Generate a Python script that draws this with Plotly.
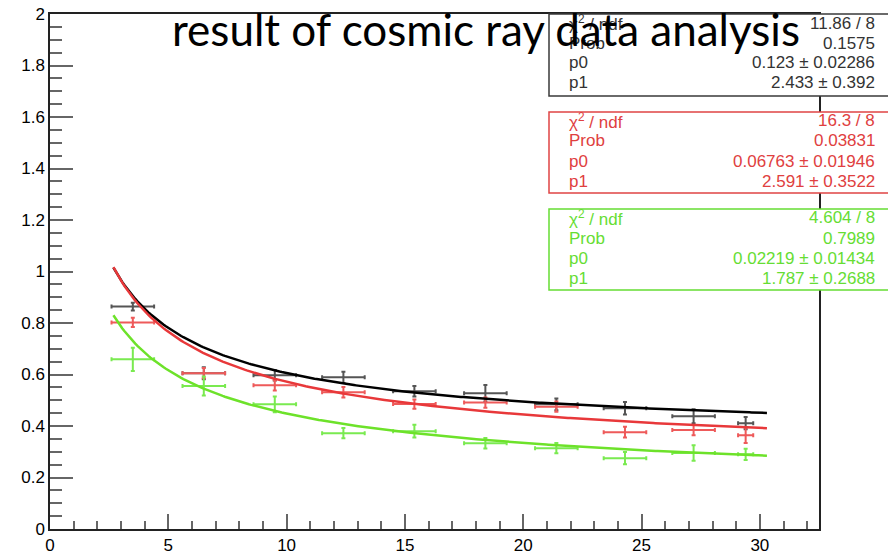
import numpy as np
import plotly.graph_objects as go

# ---- data ----
x_centers = [3.5, 6.5, 9.5, 12.4, 15.4, 18.4, 21.4, 24.3, 27.2, 29.4]
x_err = [0.9, 0.9, 0.9, 0.9, 0.9, 0.9, 0.9, 0.9, 0.9, 0.32]

black_y = [0.864, 0.605, 0.597, 0.589, 0.535, 0.527, 0.484, 0.469, 0.438, 0.411]
black_yerr = [0.015, 0.023, 0.02, 0.022, 0.02, 0.032, 0.023, 0.024, 0.027, 0.024]

red_y = [0.802, 0.605, 0.558, 0.531, 0.485, 0.491, 0.475, 0.376, 0.384, 0.364]
red_yerr = [0.018, 0.02, 0.02, 0.02, 0.018, 0.02, 0.02, 0.021, 0.02, 0.03]

green_y = [0.659, 0.555, 0.484, 0.372, 0.38, 0.333, 0.314, 0.275, 0.295, 0.29]
green_yerr = [0.045, 0.037, 0.031, 0.02, 0.025, 0.02, 0.02, 0.024, 0.03, 0.022]

# fit results shown in the stat boxes: f(x) = sqrt(p0 + p1/x)
fit_range = [2.68, 30.3]
black_fit = {"chi2": "11.86 / 8", "prob": "0.1575", "p0": 0.123, "p0e": "0.02286", "p1": 2.433, "p1e": "0.392"}
red_fit = {"chi2": "16.3 / 8", "prob": "0.03831", "p0": 0.06763, "p0e": "0.01946", "p1": 2.591, "p1e": "0.3522"}
green_fit = {"chi2": "4.604 / 8", "prob": "0.7989", "p0": 0.02219, "p0e": "0.01434", "p1": 1.787, "p1e": "0.2688"}

title_text = "result of cosmic ray data analysis"

# ---- figure ----
W, H = 888, 555
L, R, T, B = 50, 69, 14, 26
plot_w = W - L - R
plot_h = H - T - B


def px2paper_x(px):
    return (px - L) / plot_w


def py2paper_y(py):
    return (H - B - py) / plot_h


series = [
    (black_y, black_yerr, black_fit, "#000000", "#555555", "#333333"),
    (red_y, red_yerr, red_fit, "#e8383a", "#ee5a5a", "#e04040"),
    (green_y, green_yerr, green_fit, "#6de22a", "#7aea50", "#66dd33"),
]

fig = go.Figure()
xf = np.linspace(fit_range[0], fit_range[1], 300)
for ys, yerr, fit, lc, ec, tc in series:
    fig.add_trace(go.Scatter(
        x=x_centers, y=ys, mode="markers",
        marker=dict(size=2, color=ec),
        error_x=dict(type="data", array=x_err, color=ec, thickness=2, width=2),
        error_y=dict(type="data", array=yerr, color=ec, thickness=2, width=2),
        showlegend=False, hoverinfo="skip"))
for ys, yerr, fit, lc, ec, tc in series:
    yf = np.sqrt(fit["p0"] + fit["p1"] / xf)
    fig.add_trace(go.Scatter(x=xf, y=yf, mode="lines",
                             line=dict(color=lc, width=2.5),
                             showlegend=False, hoverinfo="skip"))

# stat boxes
box_rows = [(14, 96), (112, 193), (209, 290)]
row_offsets = [9, 29, 49, 69]
shapes = []
annotations = []
box_line_colors = ["#3a3a3a", "#e04444", "#66dd33"]
txt_left = px2paper_x(567)
txt_right = px2paper_x(877)
for (top, bot), (ys, yerr, fit, lc, ec, tc), bc in zip(box_rows, series, box_line_colors):
    shapes.append(dict(type="rect", xref="paper", yref="paper",
                       x0=px2paper_x(549), x1=px2paper_x(900),
                       y0=py2paper_y(bot), y1=py2paper_y(top),
                       line=dict(color=bc, width=1.5), fillcolor="white", layer="above"))
    labels = ["\u03c7<sup>2</sup> / ndf", "Prob", "p0", "p1"]
    values = [fit["chi2"], fit["prob"],
              f"{fit['p0']} \u00b1 {fit['p0e']}",
              f"{fit['p1']} \u00b1 {fit['p1e']}"]
    for off, lab, val in zip(row_offsets, labels, values):
        yy = py2paper_y(top + off)
        annotations.append(dict(xref="paper", yref="paper", x=txt_left, y=yy,
                                xanchor="left", yanchor="middle", text=lab, showarrow=False,
                                font=dict(family="Liberation Sans, Arial", size=17, color=tc)))
        annotations.append(dict(xref="paper", yref="paper", x=txt_right, y=yy,
                                xanchor="right", yanchor="middle", text=val, showarrow=False,
                                font=dict(family="Liberation Sans, Arial", size=17, color=tc)))

annotations.append(dict(xref="paper", yref="paper", x=px2paper_x(170), y=py2paper_y(29),
                        xanchor="left", yanchor="middle", text=title_text, showarrow=False,
                        font=dict(family="Lato", size=44, color="black")))

axis_common = dict(showgrid=False, zeroline=False, showline=True, linecolor="#222222",
                   linewidth=1.5, mirror=True, ticks="inside", tickcolor="#666666",
                   tickwidth=1.5, automargin=False,
                   tickfont=dict(family="Liberation Sans, Arial", size=17, color="black"))

fig.update_layout(
    width=W, height=H,
    margin=dict(l=L, r=R, t=T, b=B, pad=0, autoexpand=False),
    paper_bgcolor="white", plot_bgcolor="white",
    xaxis=dict(range=[0, 32.5], tick0=0, dtick=5, ticklen=15,
               minor=dict(dtick=1, ticklen=8, ticks="inside", tickcolor="#666666", tickwidth=1.5),
               **axis_common),
    yaxis=dict(range=[0, 2], tick0=0, dtick=0.2, ticklen=23,
               minor=dict(dtick=0.05, ticklen=12, ticks="inside", tickcolor="#666666", tickwidth=1.5),
               **axis_common),
    shapes=shapes,
    annotations=annotations,
)

fig.write_html("out.html")
